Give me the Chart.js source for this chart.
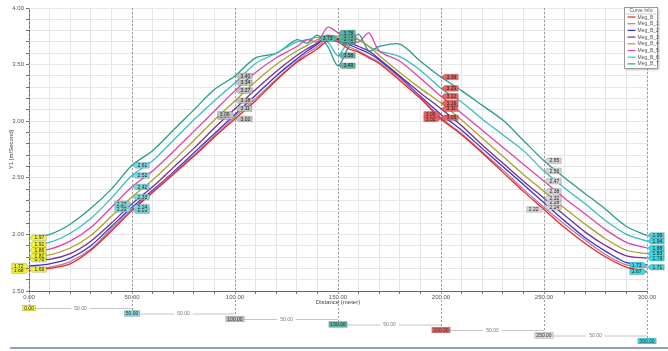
<!DOCTYPE html>
<html lang="en">
<head>
<meta charset="UTF-8">
<title>Curve Info</title>
<script src="https://cdn.jsdelivr.net/npm/chart.js"></script>
<style>
  html, body { margin: 0; padding: 0; background: #fff; }
  #chart { display: block; }
</style>
</head>
<body>
<canvas id="chart" width="668" height="351"></canvas>
<script>
// distance (meter) of each sample
const distance = [0,10,20,30,40,50,60,70,80,90,100,110,120,130,135,140,145,150,155,160,165,170,180,190,200,210,220,230,240,250,260,270,280,290,300];

const megB  = [1.68,1.70,1.74,1.86,2.03,2.21,2.37,2.53,2.69,2.86,3.02,3.18,3.36,3.52,3.58,3.64,3.71,3.70,3.64,3.61,3.56,3.51,3.36,3.20,3.02,2.88,2.72,2.55,2.38,2.22,2.06,1.92,1.80,1.71,1.67];
const megB1 = [1.69,1.71,1.76,1.87,2.05,2.22,2.38,2.54,2.70,2.87,3.04,3.20,3.37,3.53,3.60,3.66,3.73,3.71,3.66,3.62,3.57,3.52,3.38,3.21,3.03,2.89,2.73,2.57,2.40,2.24,2.09,1.95,1.82,1.73,1.71];
const megB2 = [1.72,1.74,1.79,1.90,2.07,2.24,2.39,2.55,2.72,2.89,3.06,3.23,3.40,3.55,3.62,3.68,3.75,3.72,3.68,3.64,3.60,3.54,3.39,3.22,3.06,2.92,2.76,2.60,2.44,2.28,2.12,1.97,1.85,1.75,1.73];
const megB3 = [1.78,1.78,1.83,1.94,2.10,2.27,2.42,2.59,2.76,2.94,3.11,3.28,3.44,3.58,3.64,3.69,3.74,3.73,3.70,3.66,3.62,3.55,3.40,3.25,3.11,2.96,2.79,2.63,2.47,2.32,2.17,2.02,1.90,1.81,1.79];
const megB4 = [1.81,1.82,1.88,1.99,2.16,2.33,2.48,2.65,2.83,3.01,3.18,3.35,3.50,3.62,3.67,3.72,3.76,3.75,3.79,3.72,3.66,3.58,3.43,3.29,3.16,3.01,2.85,2.69,2.53,2.38,2.23,2.09,1.96,1.86,1.83];
const megB5 = [1.86,1.87,1.94,2.06,2.24,2.42,2.56,2.73,2.91,3.09,3.27,3.43,3.56,3.66,3.72,3.70,3.83,3.78,3.72,3.70,3.78,3.62,3.53,3.38,3.22,3.07,2.92,2.77,2.62,2.47,2.32,2.18,2.04,1.93,1.88];
const megB6 = [1.91,1.93,2.01,2.14,2.32,2.52,2.65,2.83,3.01,3.18,3.34,3.51,3.60,3.70,3.72,3.74,3.70,3.58,3.70,3.72,3.66,3.62,3.57,3.45,3.29,3.17,3.02,2.88,2.74,2.56,2.41,2.27,2.12,2.00,1.94];
const megB7 = [1.97,2.00,2.09,2.23,2.40,2.61,2.74,2.92,3.10,3.28,3.40,3.56,3.60,3.72,3.69,3.76,3.66,3.49,3.65,3.77,3.62,3.66,3.68,3.53,3.39,3.27,3.14,3.01,2.83,2.65,2.50,2.36,2.22,2.07,1.99];

const seriesNames = ['Meg_B','Meg_B_1','Meg_B_2','Meg_B_3','Meg_B_4','Meg_B_5','Meg_B_6','Meg_B_7'];
const seriesValues = [megB, megB1, megB2, megB3, megB4, megB5, megB6, megB7];
const seriesColors = ['#e8262a','#c07898','#3434d8','#7a2f8c','#a9a22a','#e044aa','#38bccb','#2a9d8c'];

// cursors placed on the distance axis
const cursorPositions = [0, 50, 100, 150, 200, 250, 300];
const cursorColors = ['#f2f23c','#80d6de','#c2c2c2','#5fb5aa','#ea6464','#d6d6d6','#3ed8e4'];
// which series get their tag on the left side of each cursor
const leftTags = [[0,2],[3,1],[2,1],[3],[2,0],[0],[2,0]];

const FONT = '"Liberation Sans", Arial, sans-serif';

function tag(ctx, px, py, side, text, fill) {
  ctx.font = '5px ' + FONT;
  const w = ctx.measureText(text).width + 4, h = 5.6, gap = 3.5;
  const bx = side > 0 ? px + gap : px - gap - w;
  ctx.beginPath();
  if (side > 0) {
    ctx.moveTo(px + 0.5, py);
    ctx.lineTo(bx, py - h / 2); ctx.lineTo(bx + w, py - h / 2);
    ctx.lineTo(bx + w, py + h / 2); ctx.lineTo(bx, py + h / 2);
  } else {
    ctx.moveTo(px - 0.5, py);
    ctx.lineTo(bx + w, py - h / 2); ctx.lineTo(bx, py - h / 2);
    ctx.lineTo(bx, py + h / 2); ctx.lineTo(bx + w, py + h / 2);
  }
  ctx.closePath();
  ctx.fillStyle = fill; ctx.fill();
  ctx.strokeStyle = 'rgba(0,0,0,0.35)'; ctx.lineWidth = 0.5; ctx.stroke();
  ctx.fillStyle = '#222'; ctx.textAlign = 'center'; ctx.textBaseline = 'middle';
  ctx.fillText(text, bx + w / 2, py + 0.3);
}

function rulerY(area, i) { return area.bottom + 17 + i * 5.5; }

const cursorPlugin = {
  id: 'cursors',
  beforeDatasetsDraw(chart) {
    const {ctx, chartArea, scales: {x}} = chart;
    ctx.save();
    ctx.strokeStyle = '#9c9c9c'; ctx.lineWidth = 1; ctx.setLineDash([2, 2]);
    cursorPositions.forEach((cx, i) => {
      const px = Math.round(x.getPixelForValue(cx)) + 0.5;
      ctx.beginPath(); ctx.moveTo(px, chartArea.top); ctx.lineTo(px, rulerY(chartArea, i) - 3); ctx.stroke();
    });
    ctx.restore();
  },
  afterDatasetsDraw(chart) {
    const {ctx, scales: {x, y}} = chart;
    ctx.save();
    cursorPositions.forEach((cx, c) => {
      const idx = distance.indexOf(cx);
      const px = x.getPixelForValue(cx);
      seriesValues.forEach((vals, s) => {
        const v = vals[idx];
        const side = leftTags[c].includes(s) ? -1 : 1;
        tag(ctx, px, y.getPixelForValue(v), side, v.toFixed(2), cursorColors[c]);
      });
    });
    ctx.restore();
  },
  afterDraw(chart) {
    const {ctx, chartArea, scales: {x}} = chart;
    ctx.save();
    ctx.font = '5px ' + FONT; ctx.textBaseline = 'middle'; ctx.textAlign = 'center';
    // ruler below the axis
    cursorPositions.forEach((cx, i) => {
      const px = x.getPixelForValue(cx);
      const ry = rulerY(chartArea, i);
      const txt = cx.toFixed(2);
      const w = ctx.measureText(txt).width + 3;
      if (i < cursorPositions.length - 1) {
        const nx = x.getPixelForValue(cursorPositions[i + 1]);
        const dist = (cursorPositions[i + 1] - cx).toFixed(2);
        const mid = (px + nx) / 2, tw = ctx.measureText(dist).width + 6;
        ctx.strokeStyle = '#c6c6c6'; ctx.lineWidth = 1;
        ctx.beginPath();
        ctx.moveTo(px + w / 2, ry + 0.5); ctx.lineTo(mid - tw / 2, ry + 0.5);
        ctx.moveTo(mid + tw / 2, ry + 0.5); ctx.lineTo(nx, ry + 0.5);
        ctx.stroke();
        ctx.fillStyle = '#777';
        ctx.fillText(dist, mid, ry + 0.5);
      }
      ctx.fillStyle = cursorColors[i];
      ctx.fillRect(px - w / 2, ry - 2.8, w, 5.6);
      ctx.strokeStyle = 'rgba(0,0,0,0.3)'; ctx.lineWidth = 0.5;
      ctx.strokeRect(px - w / 2, ry - 2.8, w, 5.6);
      ctx.fillStyle = '#333';
      ctx.fillText(txt, px, ry + 0.3);
    });

    // legend box
    const lx = 624.5, ly = 7.5, lw = 33, lh = 61;
    ctx.shadowColor = 'rgba(0,0,0,0.25)'; ctx.shadowBlur = 2; ctx.shadowOffsetX = 1; ctx.shadowOffsetY = 1;
    ctx.fillStyle = '#fff'; ctx.fillRect(lx, ly, lw, lh);
    ctx.shadowColor = 'transparent';
    ctx.strokeStyle = '#9a9a9a'; ctx.lineWidth = 1; ctx.strokeRect(lx, ly, lw, lh);
    ctx.fillStyle = '#555'; ctx.textAlign = 'center';
    ctx.fillText('Curve Info', lx + lw / 2, ly + 3.5);
    ctx.strokeStyle = '#d0d0d0';
    ctx.beginPath(); ctx.moveTo(lx + 1, ly + 6.5); ctx.lineTo(lx + lw - 1, ly + 6.5); ctx.stroke();
    ctx.textAlign = 'left';
    seriesNames.forEach((name, i) => {
      const yy = ly + 9.5 + i * 6.7;
      ctx.strokeStyle = seriesColors[i]; ctx.lineWidth = 1.2;
      ctx.beginPath(); ctx.moveTo(lx + 3, yy); ctx.lineTo(lx + 11, yy); ctx.stroke();
      ctx.fillStyle = '#555';
      ctx.fillText(name, lx + 13, yy + 0.2);
    });

    // window frame line at the bottom
    ctx.strokeStyle = '#6f80b0'; ctx.lineWidth = 1.5;
    ctx.beginPath(); ctx.moveTo(10, 348); ctx.lineTo(668, 348); ctx.stroke();
    ctx.restore();
  }
};

new Chart(document.getElementById('chart'), {
  type: 'line',
  data: {
    datasets: seriesValues.map((vals, i) => ({
      label: seriesNames[i],
      data: distance.map((d, j) => ({x: d, y: vals[j]})),
      borderColor: seriesColors[i],
      borderWidth: 1.3,
      pointRadius: 0,
      tension: 0.3,
      fill: false
    }))
  },
  options: {
    responsive: false,
    animation: false,
    layout: { padding: { top: 8, right: 21, bottom: 44, left: 0 } },
    plugins: { legend: { display: false }, tooltip: { enabled: false } },
    scales: {
      x: {
        type: 'linear', min: 0, max: 300,
        ticks: {
          stepSize: 10, autoSkip: false, maxRotation: 0, padding: 0,
          font: { size: 6, family: FONT }, color: '#555',
          callback: v => (Math.round(v) % 50 === 0 ? v.toFixed(2) : '')
        },
        grid: { color: '#e6e6e6', tickLength: 3, tickColor: '#777' },
        border: { color: '#666' },
        title: { display: true, text: 'Distance (meter)', font: { size: 6, family: FONT }, color: '#444', padding: { top: 0, bottom: 1.4 } },
        afterFit: s => { s.height = 16; }
      },
      y: {
        min: 1.5, max: 4,
        ticks: {
          stepSize: 0.1, autoSkip: false, padding: 2,
          font: { size: 6, family: FONT }, color: '#555',
          callback: v => (Math.abs(v * 2 - Math.round(v * 2)) < 1e-6 ? v.toFixed(2) : '')
        },
        grid: { color: '#e6e6e6', tickLength: 3, tickColor: '#777' },
        border: { color: '#666' },
        title: { display: true, text: 'Y1 [m/Second]', font: { size: 6, family: FONT }, color: '#444', padding: { top: 8, bottom: 0 } },
        afterFit: s => { s.width = 29; }
      }
    }
  },
  plugins: [cursorPlugin]
});
</script>
</body>
</html>
